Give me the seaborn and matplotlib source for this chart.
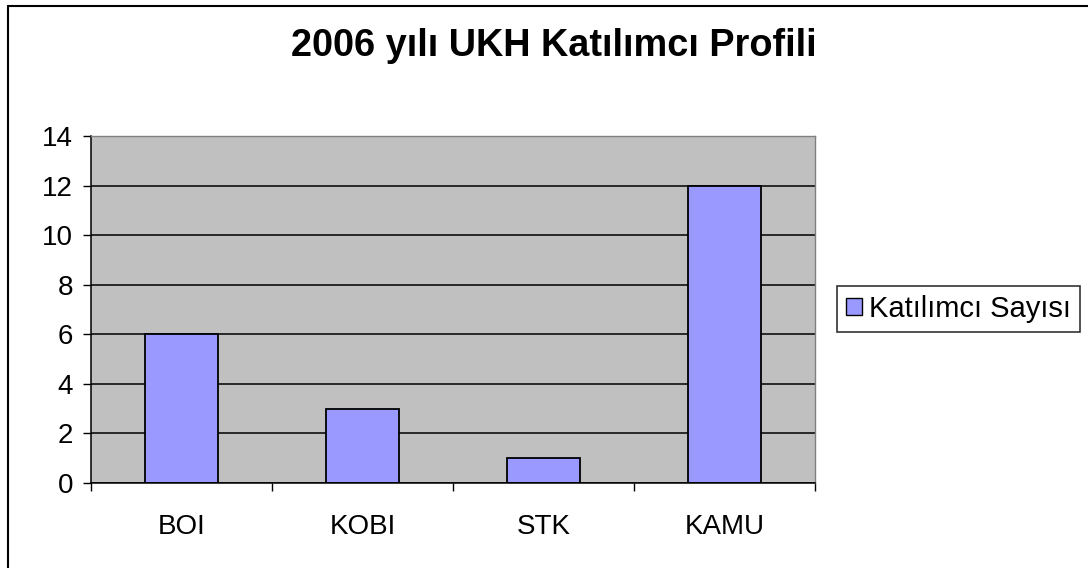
import matplotlib
matplotlib.use("Agg")
import matplotlib.pyplot as plt
from matplotlib.lines import Line2D
import seaborn as sns
import pandas as pd

# data
kategoriler = ["BOI", "KOBI", "STK", "KAMU"]
katilimci = [6, 3, 1, 12]
seri_adi = "Katılımcı Sayısı"
baslik = "2006 yılı UKH Katılımcı Profili"
y_ticks = [0, 2, 4, 6, 8, 10, 12, 14]

df = pd.DataFrame({"kategori": kategoriler, "sayi": katilimci, "seri": seri_adi})

sns.set_style("white")
plt.rcParams["font.family"] = ["Liberation Sans", "DejaVu Sans"]
plt.rcParams["text.color"] = "black"
plt.rcParams["xtick.color"] = "black"
plt.rcParams["ytick.color"] = "black"

fig = plt.figure(figsize=(10.88, 5.68), dpi=100)
ax = fig.add_axes([91 / 1088, 1 - 483 / 568, (815 - 91) / 1088, (483 - 136) / 568])

sns.barplot(data=df, x="kategori", y="sayi", hue="seri", palette={seri_adi: "#9999FF"},
            saturation=1, width=0.4, edgecolor="black", linewidth=1.3, dodge=False, ax=ax)

ax.set_facecolor("#C0C0C0")
ax.set_ylim(0, 14)
ax.set_xlim(-0.5, 3.5)
ax.set_yticks(y_ticks)
ax.set_axisbelow(True)
ax.yaxis.grid(True, color="black", linewidth=1.1)
ax.set_xlabel("")
ax.set_ylabel("")

# tick marks between categories, like Excel
ax.set_xticks([i - 0.5 for i in range(len(kategoriler) + 1)], minor=True)
ax.tick_params(axis="x", which="major", length=0, labelsize=20, pad=22, labelcolor="black")
ax.tick_params(axis="x", which="minor", length=6, width=1, color="black", direction="out", bottom=True)
ax.tick_params(axis="y", length=6, width=1, color="black", direction="out", labelsize=20, pad=7,
               left=True, labelcolor="black")

for side in ["left", "bottom"]:
    ax.spines[side].set_color("black")
    ax.spines[side].set_linewidth(1.1)
for side in ["top", "right"]:
    ax.spines[side].set_color("#808080")
    ax.spines[side].set_linewidth(1.0)

ax.get_legend().remove()
handles = [plt.Rectangle((0, 0), 1, 1, facecolor="#9999FF", edgecolor="black", linewidth=1.0)]
leg = fig.legend(handles, [seri_adi], loc="center left", bbox_to_anchor=(837 / 1088, 1 - 309 / 568),
                 fontsize=21, frameon=True, fancybox=False, edgecolor="black",
                 handlelength=0.55, handleheight=0.55, handletextpad=0.25, borderpad=0.3, borderaxespad=0)
leg.get_frame().set_linewidth(1.2)

fig.text(0.509, 1 - 46 / 568, baslik, ha="center", va="center", fontsize=27.3, fontweight="bold", color="black")

# outer chart border (only top and left visible in the reference)
fig.add_artist(Line2D([8 / 1088, 8 / 1088], [0, 1 - 6 / 568], transform=fig.transFigure, color="black", linewidth=1.5))
fig.add_artist(Line2D([8 / 1088, 1], [1 - 6 / 568, 1 - 6 / 568], transform=fig.transFigure, color="black", linewidth=1.5))

fig.savefig("out.png", dpi=100)
